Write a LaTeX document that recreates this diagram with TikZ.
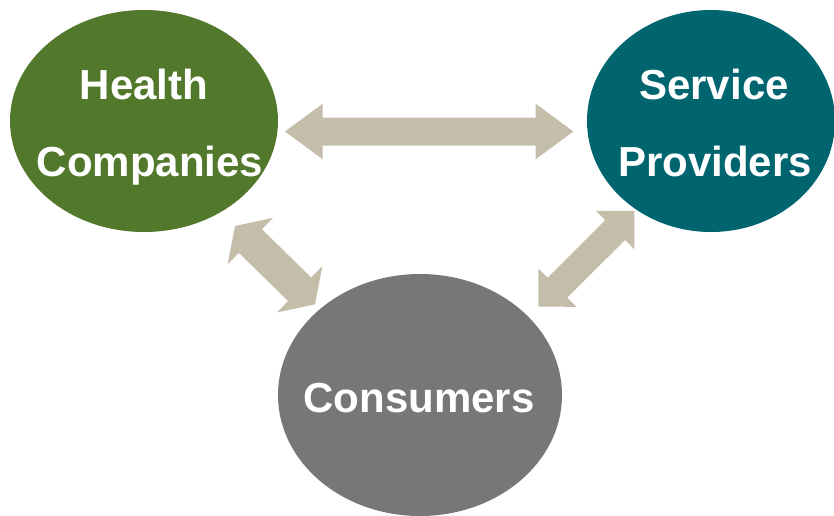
\documentclass[tikz,border=0pt]{standalone}
\usepackage{fontspec}
\setmainfont{Liberation Sans}
\usetikzlibrary{shapes.geometric,calc}

\definecolor{healthgreen}{HTML}{52782B}
\definecolor{serviceteal}{HTML}{00656F}
\definecolor{consumergray}{HTML}{777777}
\definecolor{linktan}{HTML}{C4BDAA}

% Double-headed block arrow between two named tips:
% #1,#2 tips, #3 head length, #4 head half-width, #5 shaft half-width
\newcommand\dblblockarrow[5]{%
  \fill[linktan]
    (#1)
    -- ($(#1)!#3!(#2)!#4!90:(#2)$)
    -- ($(#1)!#3!(#2)!#5!90:(#2)$)
    -- ($(#2)!#3!(#1)!#5!-90:(#1)$)
    -- ($(#2)!#3!(#1)!#4!-90:(#1)$)
    -- (#2)
    -- ($(#2)!#3!(#1)!#4!90:(#1)$)
    -- ($(#2)!#3!(#1)!#5!90:(#1)$)
    -- ($(#1)!#3!(#2)!#5!-90:(#2)$)
    -- ($(#1)!#3!(#2)!#4!-90:(#2)$)
    -- cycle;}

\begin{document}
\begin{tikzpicture}[x=1pt,y=-1pt,
  party/.style={ellipse, draw=none, inner sep=0pt},
  partytext/.style={anchor=base, inner sep=0pt, text=white,
    font=\fontsize{42}{50}\selectfont\bfseries}]
  \useasboundingbox (0,0) rectangle (834,515);

  % the three parties
  \node[party, fill=healthgreen, minimum width=268pt, minimum height=222pt] (hc) at (144,121) {};
  \node[party, fill=serviceteal, minimum width=248pt, minimum height=222pt] (sp) at (711,121) {};
  \node[party, fill=consumergray, minimum width=284pt, minimum height=242pt] (co) at (420,395) {};

  % labels
  \node[partytext] (hc1) at (144,99) {Health};
  \node[partytext] (hc2) at (150,176) {Companies};
  \node[partytext] (sp1) at (714,99) {Service};
  \node[partytext] (sp2) at (715,176) {Providers};
  \node[partytext] (co1) at (419,412) {Consumers};

  % arrow tips
  \coordinate (hsL) at (285,131.5);
  \coordinate (hsR) at (573.3,131.5);
  \coordinate (hcU) at (235,226);
  \coordinate (hcD) at (315,304.3);
  \coordinate (spU) at (634.3,211);
  \coordinate (spD) at (538.3,306.7);

  % two-way links
  \dblblockarrow{hsL}{hsR}{37.7pt}{27.8pt}{14pt}
  \dblblockarrow{hcU}{hcD}{21.5pt}{32.5pt}{16.5pt}
  \dblblockarrow{spU}{spD}{27pt}{27pt}{14pt}
\end{tikzpicture}
\end{document}
